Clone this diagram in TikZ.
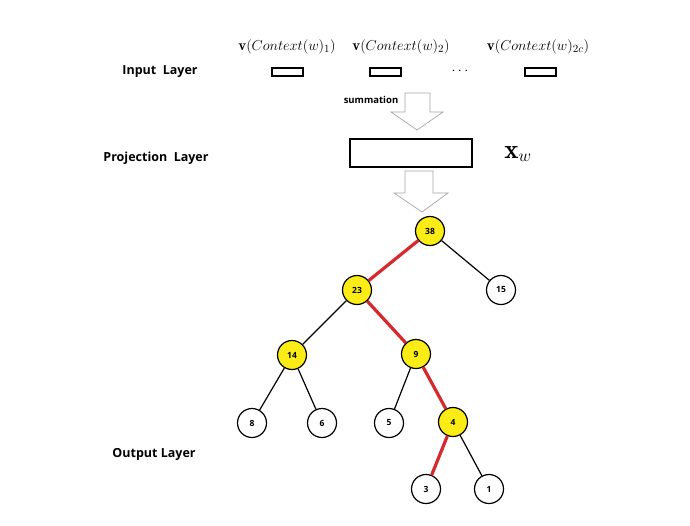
\documentclass[tikz,border=0pt]{standalone}
\usepackage{fontspec}
\newfontfamily\labfont{Open Sans}
\begin{document}
\begin{tikzpicture}[x=1pt,y=-1pt,
  layerlab/.style={font=\labfont\bfseries\fontsize{12.5}{15}\selectfont, inner sep=0pt},
  veclab/.style={font=\fontsize{15}{18}\selectfont, inner sep=0pt},
  inbox/.style={draw, line width=2pt, minimum width=31pt, minimum height=8pt, inner sep=0pt},
  tnode/.style={circle, draw, line width=1.2pt, minimum size=29pt, inner sep=0pt, font=\labfont\bfseries\fontsize{8.5}{10}\selectfont},
  hot/.style={tnode, fill=treeyellow},
  plain/.style={tnode, fill=white},
  blackedge/.style={line width=1.2pt},
  rededge/.style={line width=3.2pt, draw=pathred},
  bigarrow/.style={draw=gray!70, line width=0.7pt, fill=white, line join=miter}
]
\definecolor{treeyellow}{RGB}{250,236,20}
\definecolor{pathred}{RGB}{215,40,45}
\useasboundingbox (0,0) rectangle (690,525);
\fill[white] (0,0) rectangle (690,525);

% layer labels
\node[layerlab] (inl) at (160,72) {Input\ \ Layer};
\node[layerlab] (pjl) at (156,158) {Projection\ \ Layer};
\node[layerlab] (oul) at (154,454) {Output Layer};

% input vectors
\node[veclab] (v1) at (287,47) {$\mathbf{v}(Context(w)_1)$};
\node[veclab] (v2) at (401,47) {$\mathbf{v}(Context(w)_2)$};
\node[veclab] (v3) at (538,47) {$\mathbf{v}(Context(w)_{2c})$};
\node[inbox] (b1) at (287,72) {};
\node[inbox] (b2) at (385,72) {};
\node[inbox] (b3) at (540,72) {};
\node[inner sep=0pt, font=\fontsize{15}{18}\selectfont] (dots) at (460,71) {$\cdots$};

% summation arrow
\draw[bigarrow] (405,93) -- (430,93) -- (430,112) -- (443,112) -- (417,130) -- (391,112) -- (405,112) -- cycle;
\node[inner sep=0pt, font=\labfont\bfseries\fontsize{9.5}{11}\selectfont] (sumlab) at (371,100) {summation};

% projection
\node[draw, line width=2.5pt, minimum width=122pt, minimum height=28pt, inner sep=0pt] (proj) at (411,153) {};
\node[inner sep=0pt, font=\fontsize{27}{30}\selectfont] (xw) at (518,154) {$\mathbf{x}_w$};

% second arrow
\draw[bigarrow] (405,171) -- (433,171) -- (433,193) -- (448,193) -- (422,212) -- (394,193) -- (405,193) -- cycle;

% tree
\node[hot] (n38) at (430,231) {38};
\node[hot] (n23) at (357,290) {23};
\node[plain] (n15) at (501,290) {15};
\node[hot] (n14) at (292,355) {14};
\node[hot] (n9) at (416,354) {9};
\node[plain] (n8) at (252,423) {8};
\node[plain] (n6) at (322,423) {6};
\node[plain] (n5) at (389,423) {5};
\node[hot] (n4) at (453,422) {4};
\node[plain] (n3) at (426,489) {3};
\node[plain] (n1) at (489,489) {1};

\draw[blackedge] (n38) -- (n15);
\draw[blackedge] (n23) -- (n14);
\draw[blackedge] (n14) -- (n8);
\draw[blackedge] (n14) -- (n6);
\draw[blackedge] (n9) -- (n5);
\draw[blackedge] (n4) -- (n1);
\draw[rededge] (n38) -- (n23);
\draw[rededge] (n23) -- (n9);
\draw[rededge] (n9) -- (n4);
\draw[rededge] (n4) -- (n3);
\end{tikzpicture}
\end{document}
